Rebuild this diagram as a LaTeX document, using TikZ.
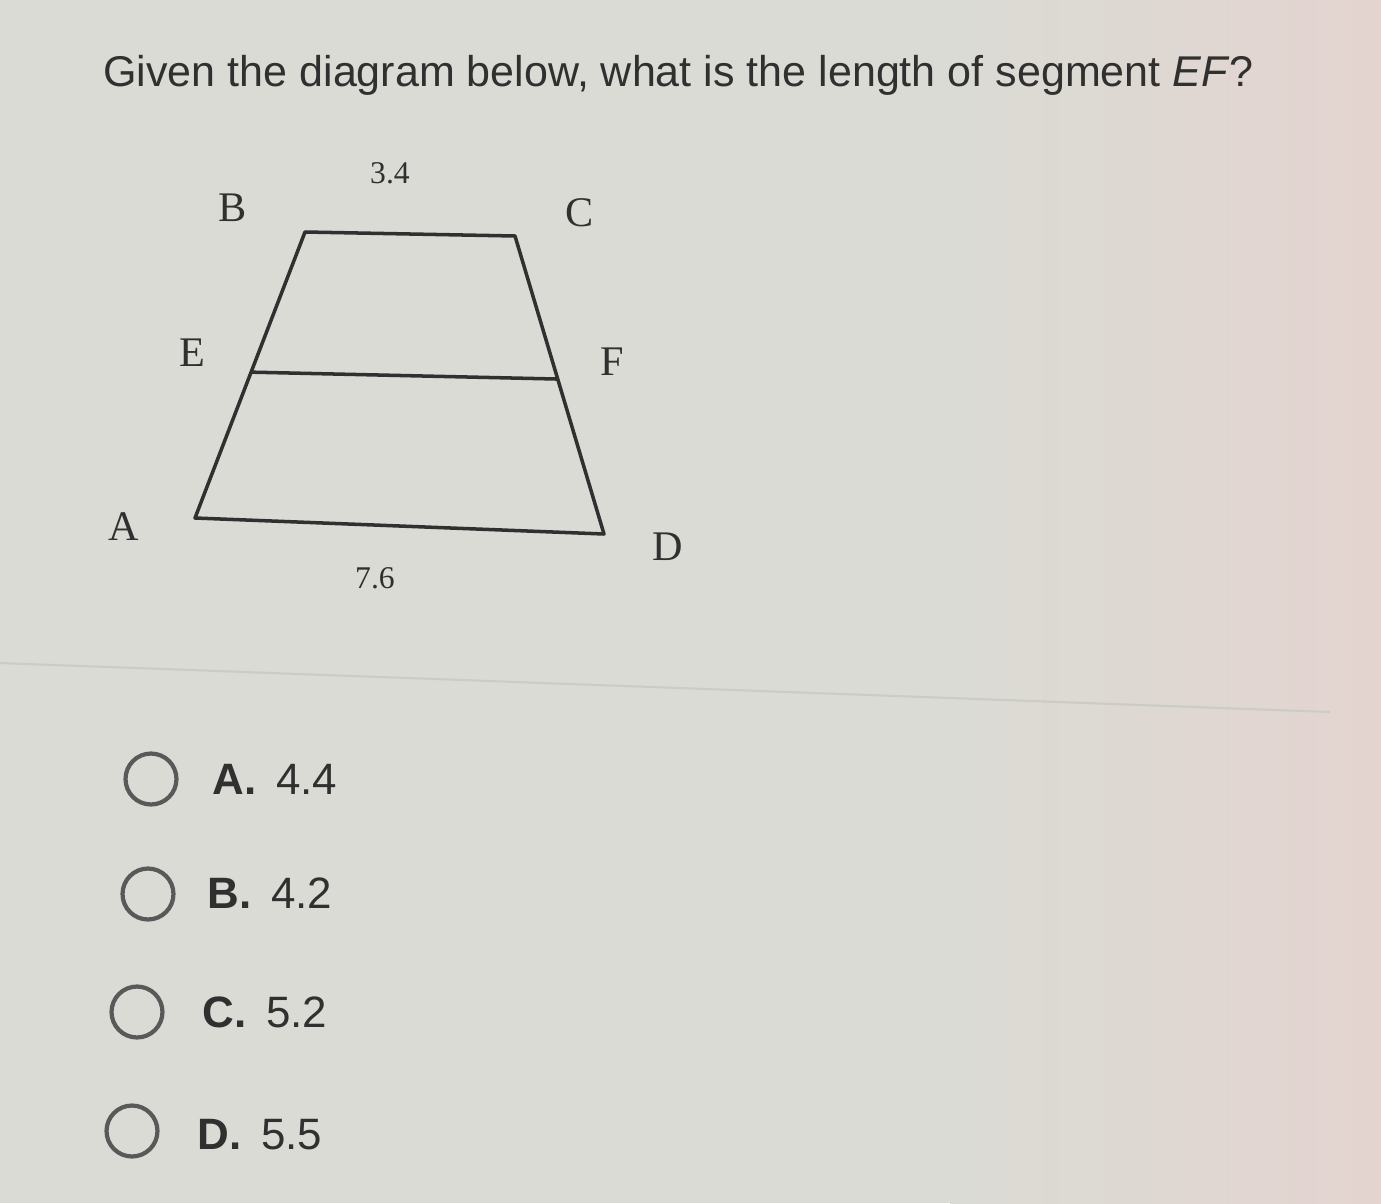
\documentclass[tikz,border=0pt]{standalone}
\usepackage{fontspec}
\setmainfont{Liberation Serif}
\setsansfont{Liberation Sans}
\usetikzlibrary{positioning,calc}
\definecolor{screen}{RGB}{218,219,212}
\definecolor{screenpink}{RGB}{228,212,208}
\definecolor{ink}{RGB}{48,48,48}
\tikzset{vertexlabel/.style={font=\fontsize{24}{24}\selectfont, text=ink},
  sidelabel/.style={font=\fontsize{18}{18}\selectfont, text=ink},
  edge/.style={draw=ink, line width=2pt, line join=round},
  radiobtn/.style={circle, draw=ink!80, line width=2.4pt, minimum size=29pt, inner sep=0pt},
  choice/.style={font=\sffamily\fontsize{25}{25}\selectfont, text=ink, anchor=west, inner sep=0pt},}

\begin{document}
\begin{tikzpicture}[x=0.02cm, y=-0.02cm]
% screen background
\fill[screen] (0,0) rectangle (1381,1203);
\shade[left color=screen, right color=screenpink] (950,0) rectangle (1381,1203);
\useasboundingbox (0,0) rectangle (1381,1203);
\draw[screen!93!black, line width=1.2pt] (0,663) -- (1330,712);

\node[font=\sffamily\fontsize{24.5}{24.5}\selectfont, text=ink, anchor=base west, inner sep=0pt] (question) at (103,87) {Given the diagram below, what is the length of segment \textit{EF}?};

% trapezoid
\coordinate (B) at (305,232);
\coordinate (C) at (515,236);
\coordinate (A) at (195,518);
\coordinate (D) at (604,534);
\coordinate (E) at ($(B)!0.49!(A)$);
\coordinate (F) at ($(C)!0.48!(D)$);
\draw[edge] (A) -- (B) -- (C) -- (D) -- cycle;
\draw[edge] (E) -- (F);

\node[vertexlabel] (lblB) at (233,208) {B};
\node[vertexlabel] (lblC) at (580,213) {C};
\node[vertexlabel] (lblE) at (192,353) {E};
\node[vertexlabel] (lblF) at (612,362) {F};
\node[vertexlabel] (lblA) at (124,527) {A};
\node[vertexlabel] (lblD) at (668,547) {D};
\node[sidelabel] (top) at (390,173) {3.4};
\node[sidelabel] (bottom) at (375,578) {7.6};

% answer choices
\node[radiobtn] (radioA) at (151,779) {};
\node[radiobtn] (radioB) at (148,894) {};
\node[radiobtn] (radioC) at (137,1012) {};
\node[radiobtn] (radioD) at (132,1131) {};
\node[choice] (optA) at (212,779) {\textbf{A.}\hspace{0.45em}4.4};
\node[choice] (optB) at (207,893) {\textbf{B.}\hspace{0.45em}4.2};
\node[choice] (optC) at (202,1012) {\textbf{C.}\hspace{0.45em}5.2};
\node[choice] (optD) at (197,1135) {\textbf{D.}\hspace{0.45em}5.5};
\end{tikzpicture}
\end{document}
